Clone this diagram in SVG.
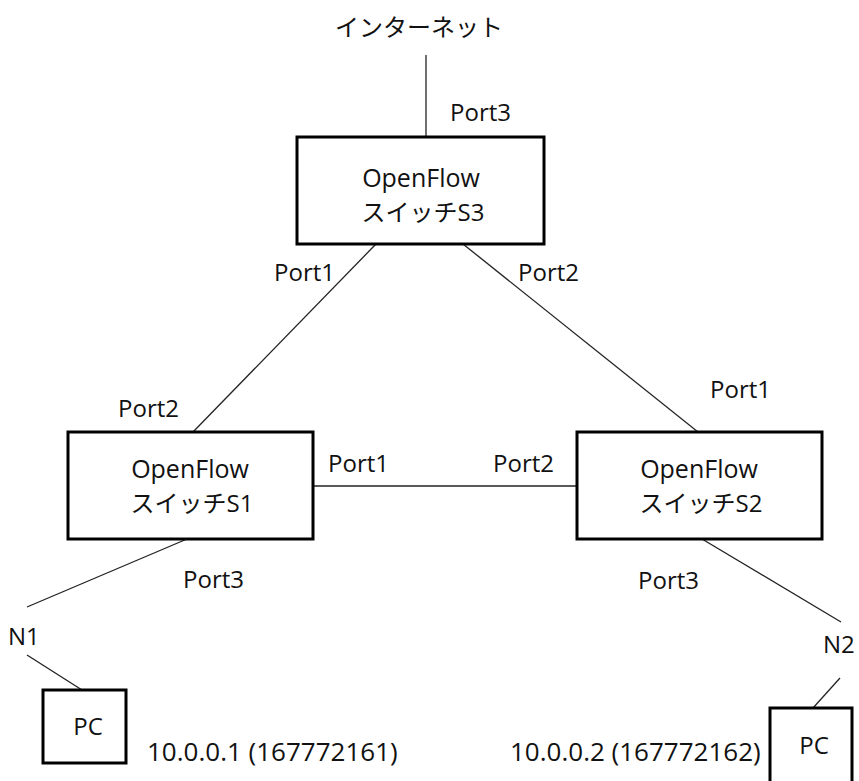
<svg xmlns="http://www.w3.org/2000/svg" width="859" height="781" viewBox="0 0 859 781">
<style>
text{font-family:"Open Sans","Noto Sans CJK JP",sans-serif;font-size:24px;fill:#111}
.m{text-anchor:middle}
.sw{font-size:25px}
.ip{font-size:26px}
.box{fill:#fff;stroke:#000;stroke-width:3}
.ln{stroke:#222;stroke-width:1.3;fill:none}
</style>
<rect width="859" height="781" fill="#fff"/>
<g id="connectors">
<line class="ln" x1="426" y1="55" x2="426" y2="137"/>
<line class="ln" x1="376" y1="244" x2="193" y2="432"/>
<line class="ln" x1="463" y1="244" x2="698" y2="432"/>
<line class="ln" x1="313" y1="486" x2="577" y2="486"/>
<line class="ln" x1="187" y1="539" x2="27" y2="607"/>
<line class="ln" x1="27" y1="655" x2="82" y2="690"/>
<line class="ln" x1="702" y1="539" x2="841" y2="622"/>
<line class="ln" x1="840" y1="678" x2="813" y2="708"/>
</g>
<g id="internet"><text class="m" x="419" y="36">インターネット</text></g>
<g id="S3">
<rect class="box" x="297" y="137" width="247" height="107"/>
<text class="m sw" x="421" y="187">OpenFlow</text>
<text class="m" x="423" y="221">スイッチS3</text>
</g>
<g id="S1">
<rect class="box" x="68" y="432" width="245" height="107"/>
<text class="m sw" x="190" y="478">OpenFlow</text>
<text class="m" x="192" y="512">スイッチS1</text>
</g>
<g id="S2">
<rect class="box" x="577" y="432" width="245" height="107"/>
<text class="m sw" x="699" y="478">OpenFlow</text>
<text class="m" x="701" y="512">スイッチS2</text>
</g>
<g id="PC1">
<rect class="box" x="43" y="690" width="83" height="73"/>
<text class="m" x="88" y="735">PC</text>
</g>
<g id="PC2">
<rect class="box" x="770" y="708" width="82" height="80"/>
<text class="m" x="814" y="754">PC</text>
</g>
<g id="labels">
<text x="450" y="121">Port3</text>
<text x="274" y="281">Port1</text>
<text x="518" y="281">Port2</text>
<text x="118" y="417">Port2</text>
<text x="710" y="398">Port1</text>
<text x="328" y="472">Port1</text>
<text x="493" y="472">Port2</text>
<text x="183" y="588">Port3</text>
<text x="638" y="589">Port3</text>
<text x="8" y="645">N1</text>
<text x="823" y="653">N2</text>
<text class="ip" x="147" y="761">10.0.0.1 (167772161)</text>
<text class="ip" x="510" y="761">10.0.0.2 (167772162)</text>
</g>
</svg>
